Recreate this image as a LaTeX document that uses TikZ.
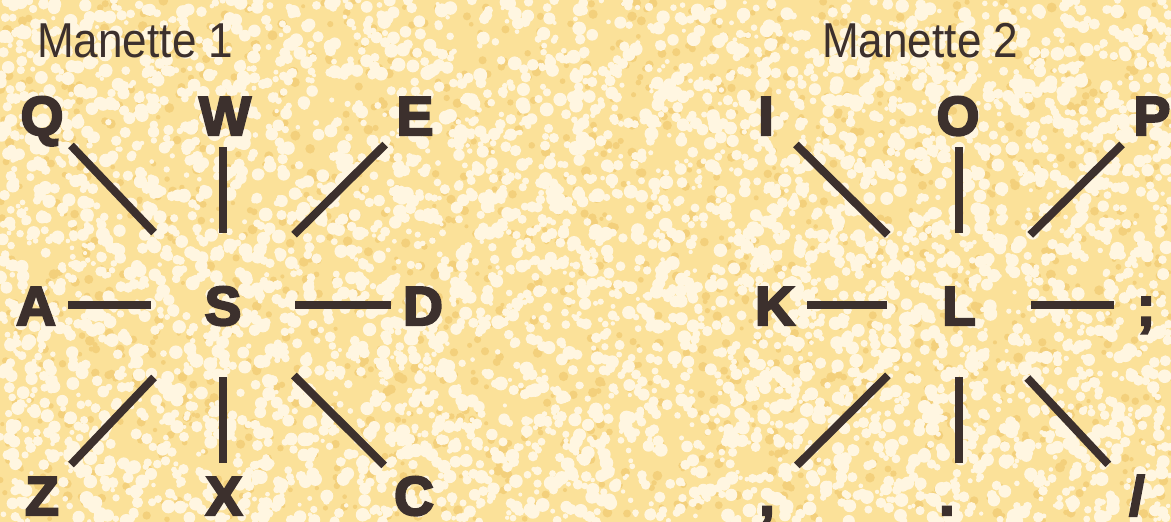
\documentclass[tikz,border=0pt]{standalone}
\usepackage{fontspec}
\setmainfont{Liberation Sans}
\newfontfamily\keyfont[FakeBold=4]{Liberation Sans Bold}
\newfontfamily\titlefont[FakeStretch=0.9]{Liberation Sans}
\definecolor{ink}{HTML}{3C302D}
\definecolor{bgyellow}{HTML}{FBE199}
\definecolor{bglight}{HTML}{FFF6E1}
\definecolor{bgdark}{HTML}{F3D07C}
\tikzset{
  keylbl/.style={font=\keyfont\fontsize{55}{55}\selectfont, text=ink, inner sep=0pt, text height=40pt, text depth=0pt, anchor=base},
  titlelbl/.style={font=\titlefont\fontsize{49}{49}\selectfont, text=ink, inner sep=0pt, anchor=base west},
  spoke/.style={line width=8pt, draw=ink, shorten <=72pt, shorten >=32pt},
  dspoke/.style={spoke, shorten <=100pt, shorten >=42pt}
}
\begin{document}
\begin{tikzpicture}[x=1pt, y=-1pt]
  \clip (0,0) rectangle (1171,522);
  % mottled paper
  \fill[bgyellow] (0,0) rectangle (1171,522);
  \pgfmathsetseed{42}
  \foreach \i in {1,...,1500}{
    \pgfmathsetmacro{\bx}{rnd*1171}
    \pgfmathsetmacro{\by}{rnd*522}
    \fill[bgdark] (\bx,\by) circle ({2+rnd*3});
  }
  \foreach \i in {1,...,5000}{
    \pgfmathsetmacro{\bx}{rnd*1171}
    \pgfmathsetmacro{\by}{rnd*522}
    \fill[bglight] (\bx,\by) circle ({2+rnd*5});
  }

  % Manette 1
  \node[titlelbl] (title1) at (37,57) {Manette 1};
  \node[keylbl] (s) at (223,325) {S};
  \node[keylbl] (q) at (42,135) {Q};
  \node[keylbl] (w) at (225,135) {W};
  \node[keylbl] (e) at (415,135) {E};
  \node[keylbl] (a) at (36,325) {A};
  \node[keylbl] (d) at (423,325) {D};
  \node[keylbl] (z) at (42,515) {Z};
  \node[keylbl] (x) at (224,515) {X};
  \node[keylbl] (c) at (414,515) {C};

  % Manette 2
  \node[titlelbl] (title2) at (822,57) {Manette 2};
  \node[keylbl] (l) at (959,325) {L};
  \node[keylbl] (i) at (766,135) {I};
  \node[keylbl] (o) at (958,135) {O};
  \node[keylbl] (p) at (1152,135) {P};
  \node[keylbl] (k) at (775,325) {K};
  \node[keylbl] (semi) at (1146,325) {;};
  \node[keylbl] (comma) at (767,515) {,};
  \node[keylbl] (dot) at (947,515) {.};
  \node[keylbl] (slash) at (1137,515) {/};

  % spokes
  \foreach \hub/\key in {s/w, s/x, l/o, l/dot}
    \draw[spoke] (\hub.center) -- (\hub.center |- \key.center);
  \foreach \hub/\key in {s/a, s/d, l/k, l/semi}
    \draw[spoke] (\hub.center) -- (\hub.center -| \key.center);
  \foreach \hub/\key in {s/q, s/e, s/z, s/c, l/i, l/p, l/comma, l/slash}
    \draw[dspoke] (\hub.center) -- (\key.center);
\end{tikzpicture}
\end{document}
